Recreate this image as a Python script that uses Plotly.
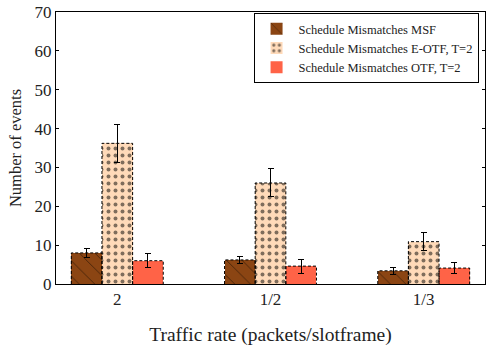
import plotly.graph_objects as go

# Traffic rates (category labels) and their positions on the axis
rates = ["2", "1/2", "1/3"]
rate_pos = [0, 1, 2]

# Mean schedule mismatches and their error margins
msf_mean = [8.0, 6.2, 3.4]
msf_err = [1.1, 1.0, 0.85]
eotf_mean = [36.2, 26.0, 10.9]
eotf_err = [4.9, 3.6, 2.3]
otf_mean = [6.0, 4.6, 4.1]
otf_err = [1.8, 1.8, 1.4]

series = [
    ("Schedule Mismatches MSF", msf_mean, msf_err, "#8B4513", "\\", 11, 0.08),
    ("Schedule Mismatches E-OTF, T=2", eotf_mean, eotf_err, "#FFDAB9", ".", 7, 0.25),
    ("Schedule Mismatches OTF, T=2", otf_mean, otf_err, "#FF6347", "", 8, 0.2),
]

bar_w = 0.2
offsets = [-bar_w, 0.0, bar_w]
font_family = "Liberation Serif, DejaVu Serif, serif"
ink = "#222222"

fig = go.Figure()

for (name, vals, errs, color, shape, size, solidity), off in zip(series, offsets):
    xs = [p + off for p in rate_pos]
    fig.add_trace(go.Bar(
        x=xs, y=vals, width=bar_w, name=name,
        marker=dict(color=color, line=dict(width=0),
                    pattern=dict(shape=shape, fgcolor="black", size=size,
                                 solidity=solidity, fillmode="overlay")),
        error_y=dict(type="data", array=errs, color="black", thickness=1, width=3),
    ))

for (name, vals, errs, color, *_), off in zip(series, offsets):
    ox, oy = [], []
    for p, v in zip(rate_pos, vals):
        l, r = p + off - bar_w / 2, p + off + bar_w / 2
        ox += [l, l, r, r, None]
        oy += [0, v, v, 0, None]
    fig.add_trace(go.Scatter(
        x=ox, y=oy, mode="lines", showlegend=False, hoverinfo="skip",
        line=dict(color="black", width=1, dash="3px,2px"),
    ))

fig.update_layout(
    width=487, height=352,
    margin=dict(l=56, r=2, t=12, b=68),
    paper_bgcolor="white", plot_bgcolor="white",
    font=dict(family=font_family, color=ink, size=16),
    barmode="overlay", bargap=0,
    showlegend=True,
    legend=dict(
        x=0.985, y=0.996, xanchor="right", yanchor="top",
        bgcolor="white", bordercolor="black", borderwidth=1,
        font=dict(size=12.5, family=font_family, color=ink),
        tracegroupgap=0, itemwidth=34,
    ),
)

fig.update_xaxes(
    range=[-0.4, 2.4], tickmode="array", tickvals=rate_pos, ticktext=rates,
    showline=True, linecolor="black", linewidth=1, mirror=True,
    ticks="", showgrid=False, zeroline=False,
    tickfont=dict(size=17),
    title=dict(text="Traffic rate (packets/slotframe)", font=dict(size=19.5), standoff=18),
)
fig.update_yaxes(
    range=[0, 70], dtick=10,
    showline=True, linecolor="black", linewidth=1, mirror="ticks",
    ticks="inside", ticklen=3, tickcolor="black", showgrid=False, zeroline=False,
    tickfont=dict(size=17),
    title=dict(text="Number of events", font=dict(size=16.5), standoff=8),
)

fig.write_html("out.html")
